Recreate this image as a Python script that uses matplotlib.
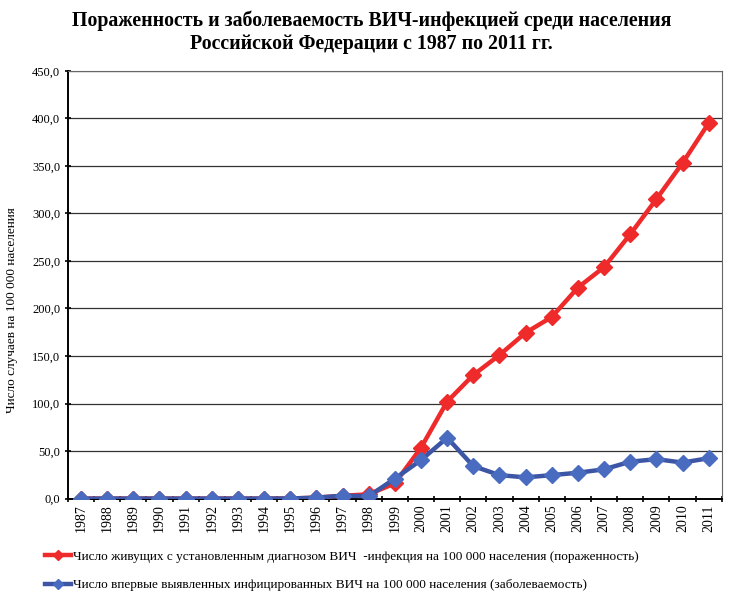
import matplotlib.pyplot as plt
import numpy as np

years = [str(y) for y in range(1987, 2012)]
prevalence = [0.0, 0.0, 0.0, 0.0, 0.0, 0.0, 0.0, 0.0, 0.1, 1.0, 3.0, 4.5,
              16.0, 53.5, 102.0, 130.0, 151.0, 174.5, 191.0, 222.0, 243.5,
              278.0, 315.0, 353.0, 395.0]
incidence = [0.0, 0.0, 0.0, 0.0, 0.0, 0.0, 0.0, 0.0, 0.1, 1.0, 3.0, 2.5,
             21.0, 40.5, 64.0, 34.2, 24.7, 22.3, 24.7, 27.2, 30.8,
             38.8, 41.5, 37.9, 42.5]
yticks = np.arange(0, 451, 50)

plt.rcParams['font.family'] = ['Liberation Serif', 'DejaVu Serif']

fig = plt.figure(figsize=(7.38, 6.0), dpi=100)
ax = fig.add_axes([0.092, 0.169, 0.886, 0.713])

x = np.arange(len(years))
red, = ax.plot(x, prevalence, color="#EE2A2A", lw=3.2, marker="D", ms=8,
               markerfacecolor="#EE2A2A", markeredgecolor="#EE2A2A", zorder=3,
               label="Число живущих с установленным диагнозом ВИЧ  -инфекция на 100 000 населения (пораженность)")
blue, = ax.plot(x, incidence, color="#3D55A5", lw=3.2, marker="D", ms=8,
                markerfacecolor="#4A6CC0", markeredgecolor="#4A6CC0", zorder=4,
                label="Число впервые выявленных инфицированных ВИЧ на 100 000 населения (заболеваемость)")

ax.set_xlim(-0.5, len(years) - 0.5)
ax.set_ylim(0, 450)
ax.set_yticks(yticks)
ax.set_yticklabels([f"{v:.1f}".replace(".", ",") for v in yticks], fontsize=9)
ax.set_xticks(x)
ax.set_xticklabels(years, rotation=90, fontsize=10)
ax.set_xticks(np.arange(-0.5, len(years), 1), minor=True)
ax.tick_params(axis="x", which="major", length=0, pad=4)
ax.tick_params(axis="x", which="minor", length=4, width=1.2, direction="inout")
ax.tick_params(axis="y", length=4, width=1.2, direction="inout")
ax.grid(axis="y", color="#333333", lw=0.9)
ax.set_axisbelow(True)
for s in ["top", "right"]:
    ax.spines[s].set_color("#666666")
ax.spines["left"].set_linewidth(1.4)
ax.spines["bottom"].set_linewidth(1.4)

ax.set_ylabel("Число случаев на 100 000 населения", fontsize=9.5)
ax.yaxis.set_label_coords(-0.076, 0.44)

fig.suptitle("Пораженность и заболеваемость ВИЧ-инфекцией среди населения\n"
             "Российской Федерации с 1987 по 2011 гг.",
             x=0.503, y=0.982, fontsize=14.3, fontweight="bold", linespacing=1.2)

fig.legend(handles=[red, blue], loc="lower left", bbox_to_anchor=(0.045, -0.005),
           frameon=False, fontsize=9.5, handlelength=2.0, handletextpad=0.1,
           labelspacing=1.2, markerscale=0.7)

plt.savefig("out.png", dpi=100)
